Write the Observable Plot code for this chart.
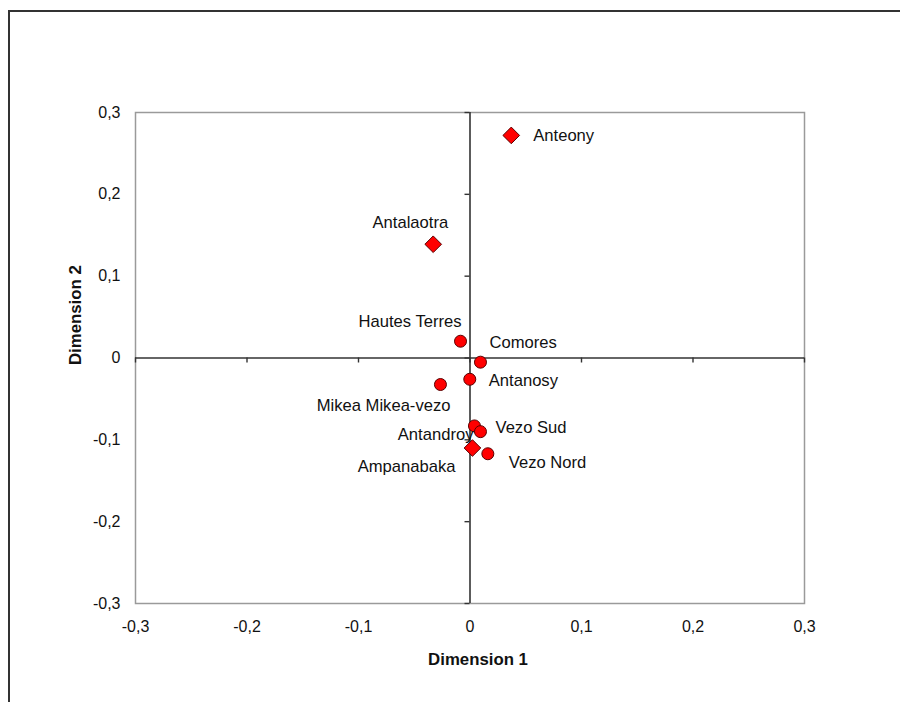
<!DOCTYPE html>
<html>
<head>
<meta charset="utf-8">
<script src="https://cdn.jsdelivr.net/npm/d3@7"></script>
<script src="https://cdn.jsdelivr.net/npm/@observablehq/plot@0.6"></script>
<style>
  html, body { margin: 0; padding: 0; background: #fff; overflow: hidden; }
  #wrap { position: relative; width: 900px; height: 702px; }
  #outer { position: absolute; left: 8px; top: 10px; width: 1000px; height: 1000px;
           border-left: 2px solid #333; border-top: 2px solid #333; box-sizing: border-box; }
  #chart { position: absolute; left: 0; top: 0; }
</style>
</head>
<body>
<div id="wrap"><div id="outer"></div><div id="chart"></div></div>
<script>
const groups = ["Anteony", "Antalaotra", "Hautes Terres", "Comores", "Antanosy",
                "Mikea Mikea-vezo", "Antandroy", "Vezo Sud", "Ampanabaka", "Vezo Nord"];
const dim1 = [0.037, -0.033, -0.0085, 0.0094, -0.0002, -0.0265, 0.004, 0.0094, 0.0022, 0.016];
const dim2 = [0.272, 0.139, 0.0205, -0.0051, -0.026, -0.0324, -0.083, -0.090, -0.110, -0.117];
const shapes = ["diamond", "diamond", "circle", "circle", "circle",
                "circle", "circle", "circle", "diamond", "circle"];
const xTicks = [-0.3, -0.2, -0.1, 0, 0.1, 0.2, 0.3];
const yTicks = [-0.3, -0.2, -0.1, 0, 0.1, 0.2, 0.3];
const xTitle = "Dimension 1";
const yTitle = "Dimension 2";

const data = groups.map((g, i) => ({name: g, x: dim1[i], y: dim2[i], shape: shapes[i]}));
const fmt = d => String(d).replace(".", ",");

// label placement (offsets in px, anchor)
const place = {
  "Anteony":          {dx: 22,  dy: 0,   a: "start"},
  "Antalaotra":       {dx: 15,  dy: -22, a: "end"},
  "Hautes Terres":    {dx: 1,   dy: -20, a: "end"},
  "Comores":          {dx: 9,   dy: -19, a: "start"},
  "Antanosy":         {dx: 19,  dy: 1,   a: "start"},
  "Mikea Mikea-vezo": {dx: 10,  dy: 21,  a: "end"},
  "Antandroy":        {dx: -1,  dy: 9,   a: "end"},
  "Vezo Sud":         {dx: 15,  dy: -4,  a: "start"},
  "Ampanabaka":       {dx: -17, dy: 19,  a: "end"},
  "Vezo Nord":        {dx: 21,  dy: 9,   a: "start"}
};

const labelMarks = data.map(d => Plot.text([d], {
  x: "x", y: "y", text: "name",
  dx: place[d.name].dx, dy: place[d.name].dy, textAnchor: place[d.name].a,
  fill: "#111", fontSize: 16.6
}));

const chart = Plot.plot({
  width: 900, height: 702,
  marginLeft: 135, marginRight: 96, marginTop: 112, marginBottom: 99,
  style: {fontFamily: "'Liberation Sans', Arial, sans-serif", fontSize: "16px", color: "#111", background: "transparent"},
  x: {domain: [-0.3, 0.3], ticks: xTicks, tickFormat: fmt, tickSize: 0, tickPadding: 17, label: null},
  y: {domain: [-0.3, 0.3], ticks: yTicks, tickFormat: fmt, tickSize: 0, tickPadding: 15, label: null},
  marks: [
    Plot.frame({stroke: "#9a9a9a", strokeWidth: 1.5}),
    Plot.ruleX([0], {stroke: "#333", strokeWidth: 1.6}),
    Plot.ruleY([0], {stroke: "#333", strokeWidth: 1.6}),
    Plot.ruleX(xTicks, {x: d => d, y1: 0, y2: 0, insetBottom: -5, stroke: "#333", strokeWidth: 1.4}),
    Plot.ruleY(yTicks, {y: d => d, x1: 0, x2: 0, insetLeft: -5, stroke: "#333", strokeWidth: 1.4}),
    Plot.dot(data.filter(d => d.shape === "circle"), {x: "x", y: "y", r: 6, fill: "#ff0000", stroke: "#5a0000", strokeWidth: 1}),
    Plot.dot(data.filter(d => d.shape === "diamond"), {x: "x", y: "y", r: 7.5, symbol: "diamond2", fill: "#ff0000", stroke: "#5a0000", strokeWidth: 1}),
    ...labelMarks,
    Plot.text([xTitle], {frameAnchor: "bottom", dx: 8, dy: 61, fontWeight: "bold", fontSize: 16.8, fill: "#111"}),
    Plot.text([yTitle], {frameAnchor: "left", dx: -60, dy: 7, rotate: -90, fontWeight: "bold", fontSize: 16.8, fill: "#111"})
  ]
});
document.getElementById("chart").appendChild(chart);
</script>
</body>
</html>
